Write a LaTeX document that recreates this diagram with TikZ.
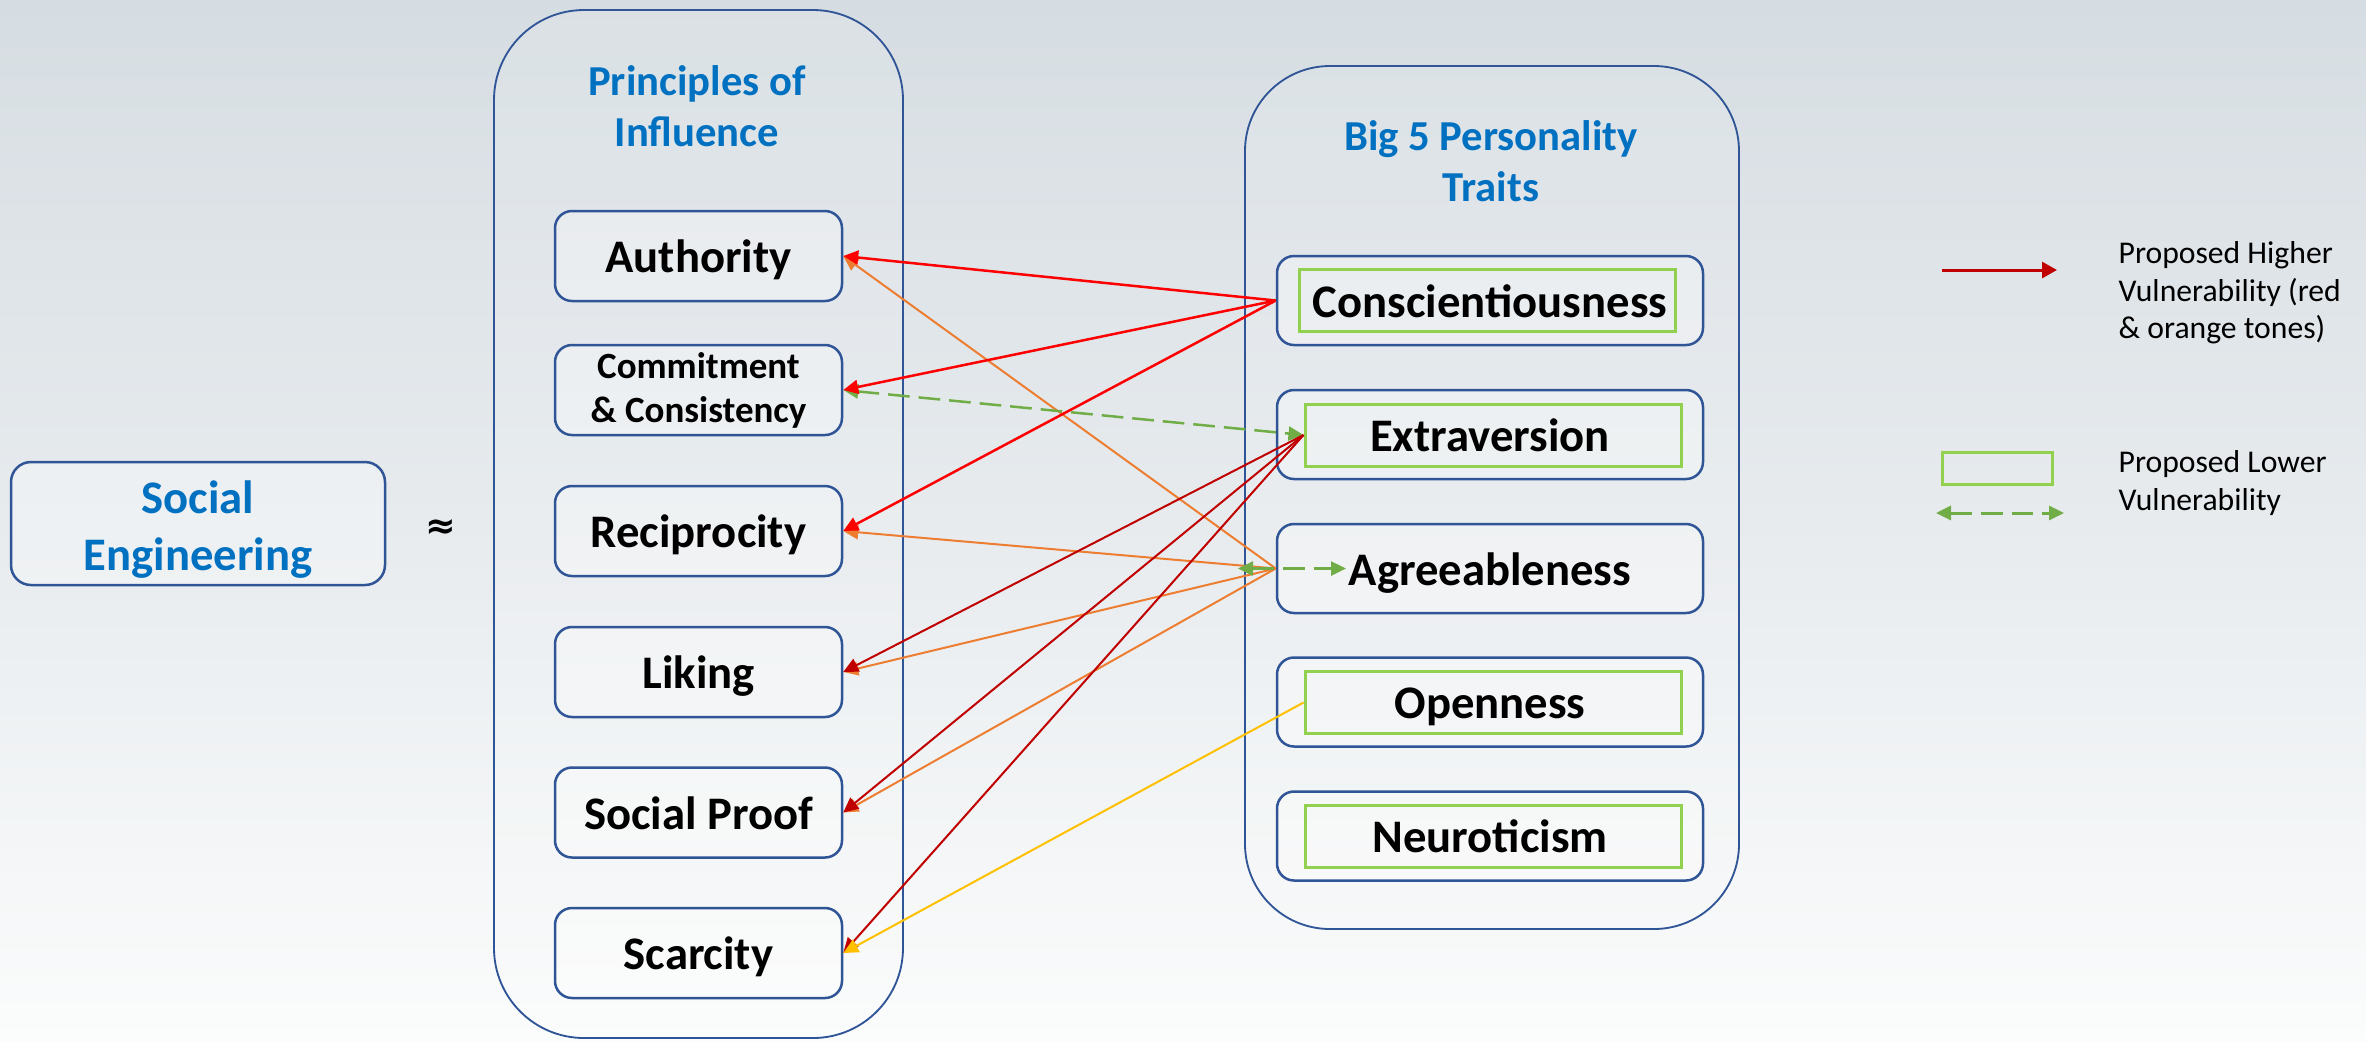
\documentclass[tikz,border=0pt]{standalone}
\usepackage{fontspec}
\setmainfont{Carlito}
\newfontfamily\symfont{DejaVu Sans}
\usetikzlibrary{arrows.meta,calc}
\definecolor{boxblue}{HTML}{2F5597}
\definecolor{titleblue}{HTML}{0070C0}
\definecolor{lgreen}{HTML}{92D050}
\definecolor{agreen}{HTML}{70AD47}
\definecolor{ared}{HTML}{FF0000}
\definecolor{dred}{HTML}{C00000}
\definecolor{aorange}{HTML}{ED7D31}
\definecolor{ayellow}{HTML}{FFC000}
\definecolor{bgtop}{HTML}{D6DDE2}
\definecolor{bgmid}{HTML}{E7EBEE}
\definecolor{bgbot}{HTML}{FBFCFC}
\begin{document}
\begin{tikzpicture}[x=0.3pt,y=-0.3pt,
  boxbase/.style={draw=boxblue, line width=0.75pt, rounded corners=5.1pt,
    fill=white, fill opacity=0.3, text opacity=1, inner sep=0pt, align=center},
  pbox/.style={boxbase, minimum width=86.1pt, minimum height=27pt,
    font=\fontsize{14}{16.8}\selectfont\bfseries, text height=10pt, text depth=0pt},
  tbox/.style={boxbase, minimum width=127.8pt, minimum height=26.7pt,
    font=\fontsize{14}{16.8}\selectfont\bfseries, text height=10pt, text depth=0pt},
  gbox/.style={draw=lgreen, line width=0.9pt, minimum width=112.8pt, minimum height=18.6pt, inner sep=0pt},
  container/.style={draw=boxblue, line width=0.55pt, fill=white, fill opacity=0.1, inner sep=0pt},
  titletext/.style={text=titleblue, font=\fontsize{12.8}{15.4}\selectfont\bfseries, align=center, inner sep=0pt},
  legtext/.style={font=\fontsize{9.5}{11.25}\selectfont, align=left, inner sep=0pt},
  tip/.style={-{Triangle[length=4.5pt,width=4.2pt]}},
  redarrow/.style={tip, draw=ared, line width=0.75pt},
  orarrow/.style={tip, draw=aorange, line width=0.6pt},
  drarrow/.style={tip, draw=dred, line width=0.6pt},
  yelarrow/.style={tip, draw=ayellow, line width=0.6pt},
  gdash/.style={{Triangle[length=4.5pt,width=4.2pt]}-{Triangle[length=4.5pt,width=4.2pt]}, draw=agreen, line width=0.75pt, dash pattern=on 6.5pt off 2.7pt}
]
% background
\shade[top color=bgtop, bottom color=bgbot, middle color=bgmid] (0,0) rectangle (2366,1041);
\useasboundingbox (0,0) rectangle (2366,1041);

% Social Engineering
\node[boxbase, rounded corners=6pt, minimum width=112.2pt, minimum height=36.9pt] (se) at (198,523.5) {};
\node[text=titleblue, font=\fontsize{14}{17.1}\selectfont\bfseries, align=center, inner sep=0pt] (setext) at (198,529.5) {Social\\Engineering};
\node[font=\symfont\fontsize{11}{13}\selectfont\bfseries, inner sep=0pt] (approx) at (441,529) {≈};

% containers
\node[container, rounded corners=27pt, minimum width=122.7pt, minimum height=308.4pt] (lc) at (698.5,524) {};
\node[container, rounded corners=25.5pt, minimum width=148.2pt, minimum height=258.9pt] (rc) at (1492,497.5) {};
\node[titletext, anchor=north] (tl) at (697,64.5) {Principles of\\Influence};
\node[titletext, anchor=north] (tr) at (1491,120) {Big 5 Personality\\Traits};

% principles
\node[pbox] (auth) at (698.5,256) {Authority};
\node[boxbase, minimum width=86.1pt, minimum height=27pt, font=\fontsize{11.1}{13.2}\selectfont\bfseries] (comm) at (698.5,390) {Commitment\\\& Consistency};
\node[pbox] (reci) at (698.5,531) {Reciprocity};
\node[pbox] (lik) at (698.5,672) {Liking};
\node[pbox] (soc) at (698.5,812.5) {Social Proof};
\node[pbox] (scar) at (698.5,953) {Scarcity};

% traits
\node[tbox] (cons) at (1490,300.5) {};
\node[tbox] (extr) at (1490,434.5) {};
\node[tbox] (agre) at (1490,568.5) {};
\node[tbox] (open) at (1490,702) {};
\node[tbox] (neur) at (1490,836) {};
\node[gbox] (consg) at (1487,300) {};
\node[gbox] (extrg) at (1493,435) {};
\node[gbox] (openg) at (1493,702.5) {};
\node[gbox] (neurg) at (1493,836) {};
\node[tbox, draw=none, fill=none] (consl) at (cons) {Conscientiousness};
\node[tbox, draw=none, fill=none] (extrl) at (extr) {Extraversion};
\node[tbox, draw=none, fill=none] (agrel) at (agre) {Agreeableness};
\node[tbox, draw=none, fill=none] (openl) at (open) {Openness};
\node[tbox, draw=none, fill=none] (neurl) at (neur) {Neuroticism};

% connectors
\draw[orarrow] (agre.west) -- (auth.east);
\draw[orarrow] (agre.west) -- (reci.east);
\draw[orarrow] (agre.west) -- (lik.east);
\draw[orarrow] (agre.west) -- (soc.east);
\coordinate (agL) at (1238,568.5);
\coordinate (agR) at (1346,568.5);
\draw[gdash] (agL) -- (agR);
\draw[gdash] (comm.east) -- (extrg.west);
\draw[drarrow] (extrg.west) -- (lik.east);
\draw[drarrow] (extrg.west) -- (soc.east);
\draw[drarrow] (extrg.west) -- (scar.east);
\draw[redarrow] (cons.west) -- (auth.east);
\draw[redarrow] (cons.west) -- (comm.east);
\draw[redarrow] (cons.west) -- (reci.east);
\draw[yelarrow] (openg.west) -- (scar.east);

% legend
\coordinate (lr1) at (1942,270);
\coordinate (lr2) at (2057,270);
\draw[-{Triangle[length=4.5pt,width=4.8pt]}, draw=dred, line width=0.9pt] (lr1) -- (lr2);
\node[legtext, anchor=north west] (lt1) at (2118,241) {Proposed Higher\\Vulnerability (red\\\& orange tones)};
\node[gbox, minimum width=33pt, minimum height=9.6pt] (lgb) at (1997,468) {};
\coordinate (lg1) at (1936,513);
\coordinate (lg2) at (2064,513);
\draw[gdash, line width=0.9pt] (lg1) -- (lg2);
\node[legtext, anchor=north west] (lt2) at (2118,450) {Proposed Lower\\Vulnerability};
\end{tikzpicture}
\end{document}
